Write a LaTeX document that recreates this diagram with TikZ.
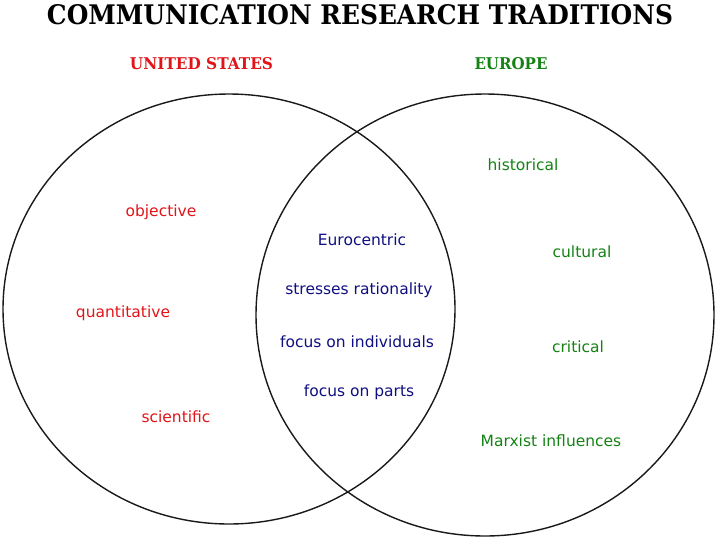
\documentclass[tikz,border=0pt]{standalone}
\usepackage{fontspec}
\setmainfont{DejaVu Sans}
\newfontfamily\slabfont{DejaVu Serif}
\usepackage{tikz}
\usetikzlibrary{positioning}
\usepackage{xcolor}
\definecolor{cUS}{RGB}{225,20,25}
\definecolor{cEU}{RGB}{20,130,20}
\definecolor{cMid}{RGB}{15,15,130}
\definecolor{cLine}{RGB}{25,25,25}
\tikzset{
	ring/.style={draw=cLine, line width=1.4pt},
	usword/.style={text=cUS, font=\fontsize{15.5}{18}\selectfont, inner sep=0pt},
	euword/.style={text=cEU, font=\fontsize{15.5}{18}\selectfont, inner sep=0pt},
	midword/.style={text=cMid, font=\fontsize{15.5}{18}\selectfont, inner sep=0pt},
	headline/.style={inner sep=0pt, font=\slabfont\bfseries},
}

\begin{document}
\begin{tikzpicture}[x=1pt, y=-1pt]
		\useasboundingbox (0,0) rectangle (715,539);
		% the two traditions
		\draw[ring] (229,309) ellipse [x radius=226, y radius=215];
		\draw[ring] (485,315) ellipse [x radius=229, y radius=221];
		% headings
		\node[headline] (title) at (360,15) {\resizebox{626pt}{20pt}{COMMUNICATION RESEARCH TRADITIONS}};
		\node[headline, text=cUS] (us) at (201.5,64) {\resizebox{143pt}{12pt}{UNITED STATES}};
		\node[headline, text=cEU] (eu) at (511,64) {\resizebox{73pt}{12pt}{EUROPE}};
		% united states only
		\node[usword] (obj) at (161,212) {objective};
		\node[usword] (quant) at (123,313) {quantitative};
		\node[usword] (sci) at (176,417) {scientific};
		% shared
		\node[midword] (euro) at (362,240) {Eurocentric};
		\node[midword] (rat) at (359,290) {stresses rationality};
		\node[midword] (indiv) at (357,342) {focus on individuals};
		\node[midword] (parts) at (359,392) {focus on parts};
		% europe only
		\node[euword] (hist) at (523,165) {historical};
		\node[euword] (cult) at (582,252) {cultural};
		\node[euword] (crit) at (578,347) {critical};
		\node[euword] (marx) at (551,441) {Marxist influences};
	\end{tikzpicture}
\end{document}
